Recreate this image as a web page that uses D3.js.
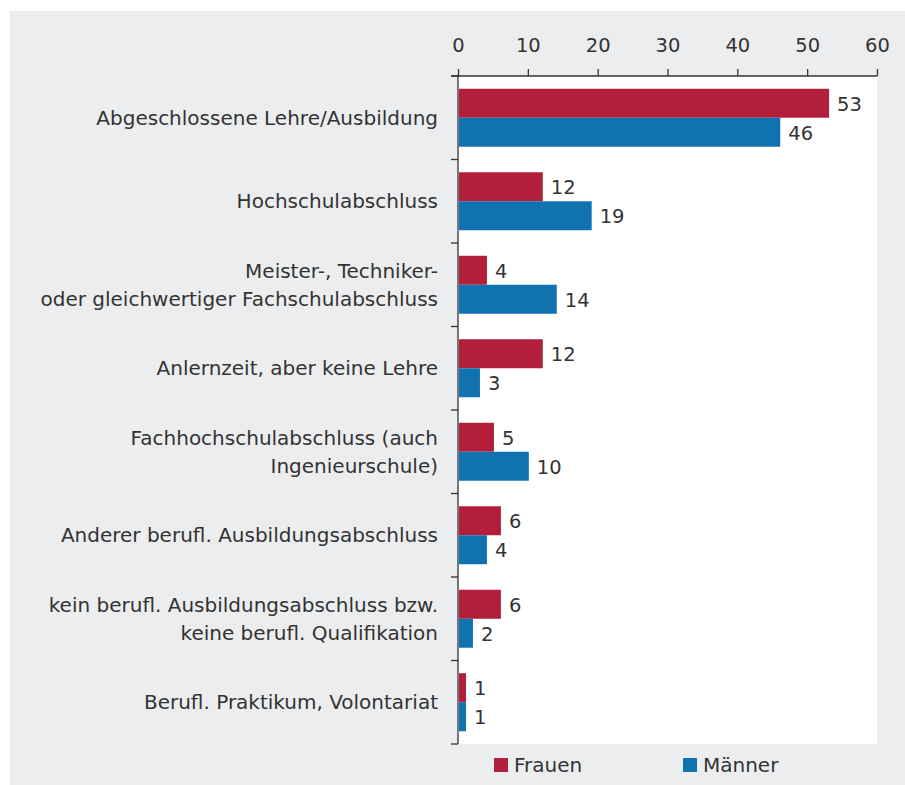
<!DOCTYPE html>
<html>
<head>
<meta charset="utf-8">
<script src="https://cdn.jsdelivr.net/npm/d3@7"></script>
<style>
  body { margin: 0; background: #fff; }
  text { font-family: "DejaVu Sans", sans-serif; fill: #333; }
</style>
</head>
<body>
<div id="chart"></div>
<script>
// Ausbildungsabschluss nach Geschlecht (in Prozent)
const categories = [
  ["Abgeschlossene Lehre/Ausbildung"],
  ["Hochschulabschluss"],
  ["Meister-, Techniker-", "oder gleichwertiger Fachschulabschluss"],
  ["Anlernzeit, aber keine Lehre"],
  ["Fachhochschulabschluss (auch", "Ingenieurschule)"],
  ["Anderer berufl. Ausbildungsabschluss"],
  ["kein berufl. Ausbildungsabschluss bzw.", "keine berufl. Qualifikation"],
  ["Berufl. Praktikum, Volontariat"]
];
const frauen = [53, 12, 4, 12, 5, 6, 6, 1];
const maenner = [46, 19, 14, 3, 10, 4, 2, 1];
const series = ["Frauen", "Männer"];
const colors = ["#b31f3b", "#1172b0"];
const xTicks = [0, 10, 20, 30, 40, 50, 60];

const width = 905, height = 785;
const plot = { left: 458, right: 877, top: 76, bottom: 744 };

const svg = d3.select("#chart").append("svg")
  .attr("width", width)
  .attr("height", height);

// Grey panel and white plot area
svg.append("rect")
  .attr("x", 10).attr("y", 11)
  .attr("width", width - 10).attr("height", height - 11)
  .attr("fill", "#ecedef");

svg.append("rect")
  .attr("x", plot.left).attr("y", plot.top)
  .attr("width", plot.right - plot.left).attr("height", plot.bottom - plot.top)
  .attr("fill", "#fff");

const x = d3.scaleLinear().domain([0, 60]).range([plot.left, plot.right]);
const y = d3.scaleBand().domain(d3.range(categories.length)).range([plot.top, plot.bottom]);
const inner = d3.scaleBand().domain(series).range([0, y.bandwidth()]).paddingOuter(0.44);

// Top axis
const xAxis = d3.axisTop(x).tickValues(xTicks).tickSize(7).tickPadding(17);
const gx = svg.append("g")
  .attr("transform", `translate(0,${plot.top})`)
  .call(xAxis);
gx.select(".domain").attr("d", `M${plot.left - 7},0H${plot.right}`);
gx.selectAll("line, path").attr("stroke", "#333").attr("stroke-width", 1.3);
gx.selectAll("text")
  .attr("font-size", 19.5)
  .attr("fill", "#333")
  .style("font-family", "'DejaVu Sans', sans-serif");

// Left axis line with ticks at category boundaries
const boundaries = d3.range(categories.length + 1).map(i => plot.top + i * y.step());
svg.append("line")
  .attr("x1", plot.left).attr("x2", plot.left)
  .attr("y1", plot.top).attr("y2", plot.bottom)
  .attr("stroke", "#333").attr("stroke-width", 1.3);
svg.selectAll(".ytick")
  .data(boundaries)
  .join("line")
  .attr("x1", plot.left - 7).attr("x2", plot.left)
  .attr("y1", d => d).attr("y2", d => d)
  .attr("stroke", "#333").attr("stroke-width", 1.3);

// Category labels
categories.forEach((lines, i) => {
  const cy = y(i) + y.bandwidth() / 2;
  const t = svg.append("text")
    .attr("x", plot.left - 20)
    .attr("text-anchor", "end")
    .attr("font-size", 20);
  lines.forEach((line, j) => {
    t.append("tspan")
      .attr("x", plot.left - 20)
      .attr("y", cy + 7 + (j - (lines.length - 1) / 2) * 28)
      .text(line);
  });
});

// Bars and value labels
[frauen, maenner].forEach((values, s) => {
  const name = series[s];
  svg.selectAll(".bar-" + s)
    .data(values)
    .join("rect")
    .attr("x", x(0) + 1)
    .attr("y", (d, i) => y(i) + inner(name))
    .attr("width", d => x(d) - x(0))
    .attr("height", inner.bandwidth())
    .attr("fill", colors[s]);

  svg.selectAll(".val-" + s)
    .data(values)
    .join("text")
    .attr("x", d => x(d) + 9)
    .attr("y", (d, i) => y(i) + inner(name) + inner.bandwidth() / 2 + 7.5)
    .attr("font-size", 19.5)
    .text(d => d);
});

// Legend
const legendX = [494, 683];
series.forEach((name, s) => {
  svg.append("rect")
    .attr("x", legendX[s]).attr("y", 758)
    .attr("width", 14).attr("height", 14)
    .attr("fill", colors[s]);
  svg.append("text")
    .attr("x", legendX[s] + 20).attr("y", 772)
    .attr("font-size", 20)
    .text(name);
});
</script>
</body>
</html>
